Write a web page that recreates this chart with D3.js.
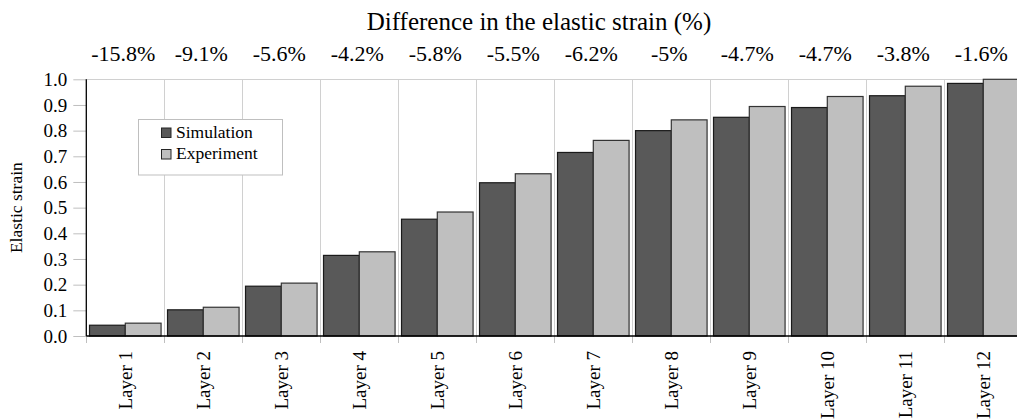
<!DOCTYPE html>
<html>
<head>
<meta charset="utf-8">
<script src="https://cdn.jsdelivr.net/npm/d3@7"></script>
<style>
  html, body { margin: 0; padding: 0; background: #fff; }
  svg { display: block; }
</style>
</head>
<body>
<svg id="chart" width="1017" height="419"></svg>
<script>
// Elastic strain per layer: simulation vs. experiment
const layers = ["Layer 1", "Layer 2", "Layer 3", "Layer 4", "Layer 5", "Layer 6",
                "Layer 7", "Layer 8", "Layer 9", "Layer 10", "Layer 11", "Layer 12"];
const simulation = [0.042, 0.102, 0.194, 0.314, 0.455, 0.597, 0.715, 0.800, 0.852, 0.890, 0.936, 0.984];
const experiment = [0.050, 0.112, 0.206, 0.328, 0.483, 0.632, 0.762, 0.842, 0.894, 0.933, 0.973, 1.000];
const differences = ["-15.8%", "-9.1%", "-5.6%", "-4.2%", "-5.8%", "-5.5%",
                     "-6.2%", "-5%", "-4.7%", "-4.7%", "-3.8%", "-1.6%"];
const seriesNames = ["Simulation", "Experiment"];
const seriesColors = ["#595959", "#bfbfbf"];
const yTicks = [0, 0.1, 0.2, 0.3, 0.4, 0.5, 0.6, 0.7, 0.8, 0.9, 1.0];

const svg = d3.select("#chart");
const serif = "'Liberation Serif', 'Times New Roman', serif";

const plot = { left: 86.3, top: 79.3, bottom: 336 };
const step = 78;

const x0 = d3.scaleBand()
  .domain(layers)
  .range([plot.left, plot.left + step * layers.length])
  .paddingInner(0).paddingOuter(0);

const x1 = d3.scaleBand()
  .domain(seriesNames)
  .range([0, x0.bandwidth()])
  .paddingInner(0)
  .paddingOuter(0.09);

const y = d3.scaleLinear().domain([0, 1]).range([plot.bottom, plot.top]);

// vertical category gridlines
const gridG = svg.append("g");
layers.forEach(l => {
  const gx = Math.round(x0(l) + x0.bandwidth()) + 0.5;
  gridG.append("line")
    .attr("x1", gx).attr("x2", gx)
    .attr("y1", plot.top).attr("y2", plot.bottom)
    .attr("stroke", "#d0d0d0").attr("stroke-width", 1);
});
// top border of plot area
gridG.append("line")
  .attr("x1", plot.left).attr("x2", 1017)
  .attr("y1", Math.round(plot.top) + 0.5).attr("y2", Math.round(plot.top) + 0.5)
  .attr("stroke", "#d0d0d0").attr("stroke-width", 1);

// bars
const rows = layers.map((l, i) => ({ layer: l, values: [simulation[i], experiment[i]] }));
const groups = svg.append("g").selectAll("g")
  .data(rows).join("g")
  .attr("transform", d => `translate(${x0(d.layer)},0)`);

groups.selectAll("rect")
  .data(d => d.values.map((v, k) => ({ key: seriesNames[k], value: v, k })))
  .join("rect")
  .attr("x", d => x1(d.key))
  .attr("width", x1.bandwidth())
  .attr("y", d => y(d.value))
  .attr("height", d => y(0) - y(d.value))
  .attr("fill", d => seriesColors[d.k])
  .attr("stroke", d => d.k === 0 ? "#1a1a1a" : "#333333")
  .attr("stroke-width", 1.2);

// y axis
const yAxis = d3.axisLeft(y)
  .tickValues(yTicks)
  .tickFormat(d3.format(".1f"))
  .tickSize(13)
  .tickPadding(6);
const yg = svg.append("g")
  .attr("transform", `translate(${plot.left},0)`)
  .call(yAxis)
  .attr("font-family", serif)
  .attr("font-size", 19);
yg.select(".domain").remove();
yg.selectAll(".tick line").attr("stroke", "#bfbfbf");
yg.selectAll(".tick text").attr("fill", "#000");
svg.append("line")
  .attr("x1", plot.left).attr("x2", plot.left)
  .attr("y1", plot.top).attr("y2", plot.bottom)
  .attr("stroke", "#000").attr("stroke-width", 1.3);

// x axis
const xAxis = d3.axisBottom(x0).tickSize(0).tickPadding(0);
const xg = svg.append("g")
  .attr("transform", `translate(0,${plot.bottom})`)
  .call(xAxis)
  .attr("font-family", serif)
  .attr("font-size", 19);
xg.select(".domain").remove();
xg.selectAll(".tick text")
  .attr("fill", "#000")
  .attr("text-anchor", "end")
  .attr("dy", "0.33em")
  .attr("transform", "translate(0,15) rotate(-90)");
// category boundary ticks
[plot.left].concat(layers.map(l => x0(l) + x0.bandwidth())).forEach(tx => {
  const gx = Math.round(tx) + 0.5;
  svg.append("line")
    .attr("x1", gx).attr("x2", gx)
    .attr("y1", plot.bottom).attr("y2", plot.bottom + 7)
    .attr("stroke", "#bfbfbf");
});
svg.append("line")
  .attr("x1", plot.left).attr("x2", 1017)
  .attr("y1", plot.bottom).attr("y2", plot.bottom)
  .attr("stroke", "#000").attr("stroke-width", 1.3);

// y axis title
svg.append("text")
  .attr("transform", `translate(22,${(plot.top + plot.bottom) / 2}) rotate(-90)`)
  .attr("text-anchor", "middle")
  .attr("font-family", serif)
  .attr("font-size", 17.5)
  .text("Elastic strain");

// difference labels above each category
svg.append("g").selectAll("text")
  .data(layers)
  .join("text")
  .attr("x", d => x0(d) + x0.bandwidth() / 2 - 2)
  .attr("y", 61)
  .attr("text-anchor", "middle")
  .attr("font-family", serif)
  .attr("font-size", 22)
  .text((d, i) => differences[i]);

svg.append("text")
  .attr("x", 539)
  .attr("y", 30)
  .attr("text-anchor", "middle")
  .attr("font-family", serif)
  .attr("font-size", 25)
  .text("Difference in the elastic strain (%)");

// legend
const lg = svg.append("g").attr("transform", "translate(138.5,119.5)");
lg.append("rect")
  .attr("width", 144).attr("height", 55.5)
  .attr("fill", "#fff").attr("stroke", "#bfbfbf");
seriesNames.forEach((name, k) => {
  const row = lg.append("g").attr("transform", `translate(23,${8.5 + k * 21.5})`);
  row.append("rect")
    .attr("width", 9.5).attr("height", 9.5)
    .attr("fill", seriesColors[k])
    .attr("stroke", "#262626").attr("stroke-width", 1);
  row.append("text")
    .attr("x", 14.5).attr("y", 9.5)
    .attr("font-family", serif)
    .attr("font-size", 17.5)
    .text(name);
});
</script>
</body>
</html>
